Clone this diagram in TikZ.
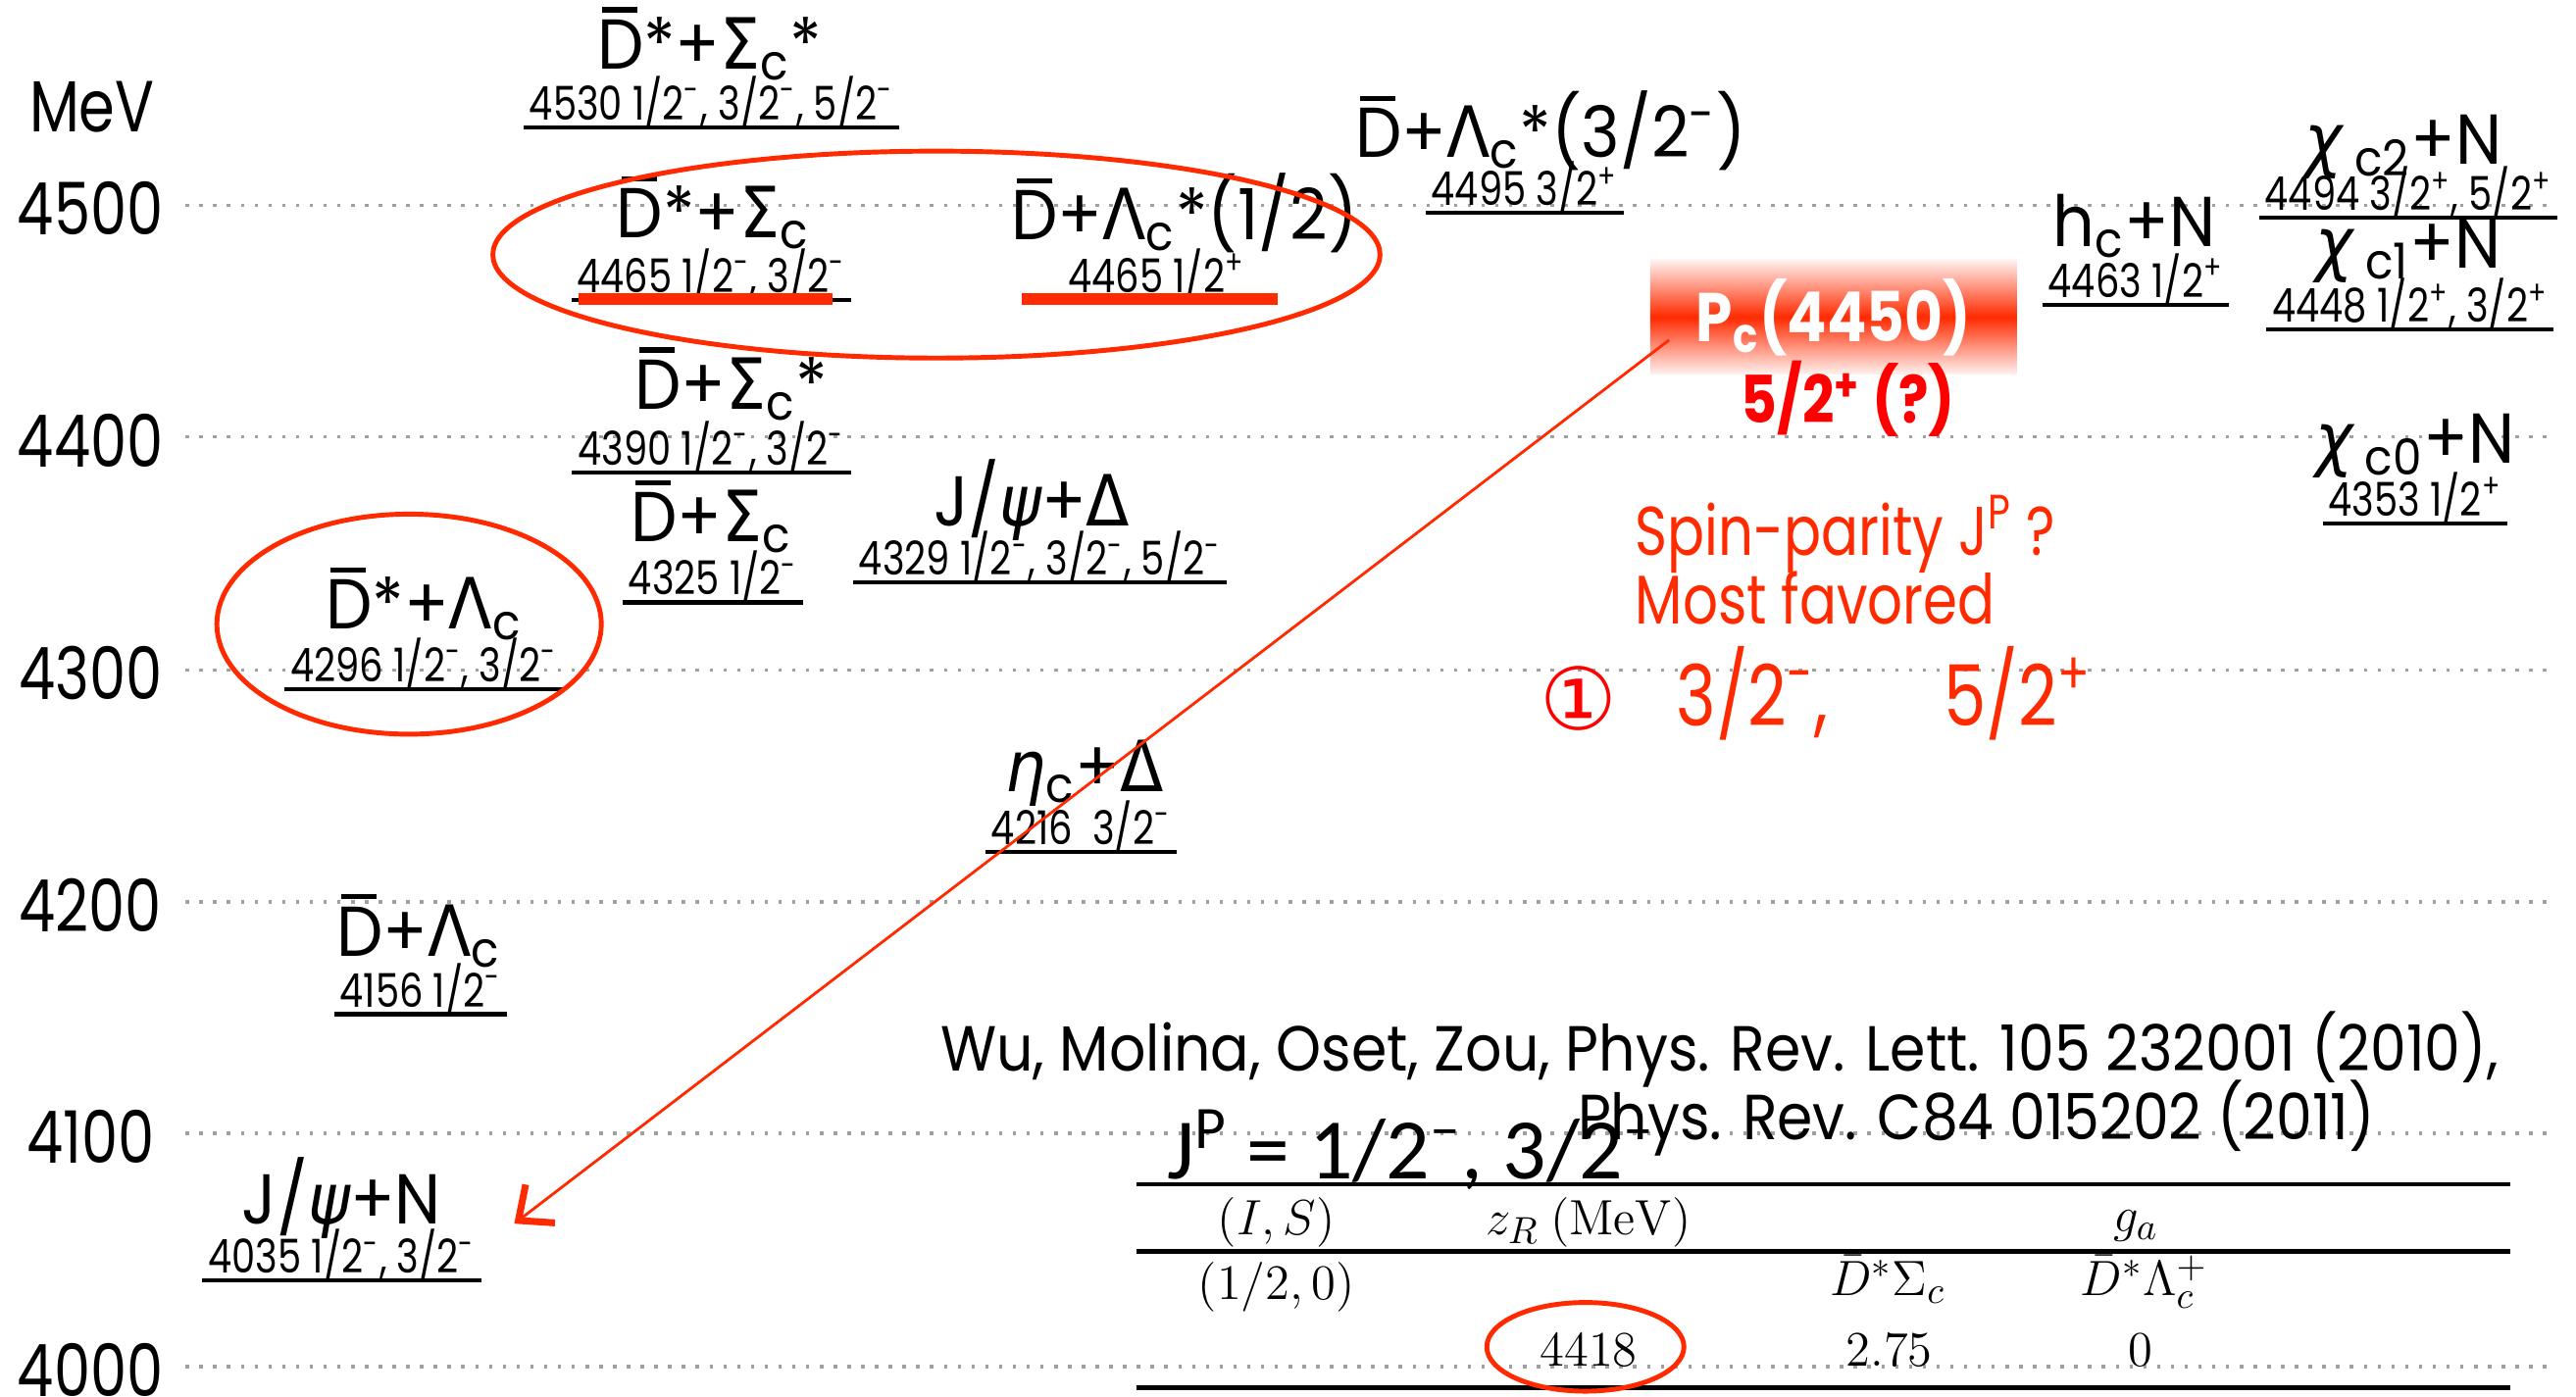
\documentclass[tikz,border=0pt]{standalone}
\usepackage[no-math]{fontspec}
\setmainfont{Poppins}[FakeStretch=0.85]
\newfontfamily\namefont{Poppins}[FakeStretch=0.93]
\newfontfamily\massfont{Poppins}[FakeStretch=0.81]
\newfontfamily\axisfont{Poppins}[FakeStretch=0.8]
\newfontfamily\citefont{Poppins}[FakeStretch=0.9]
\newfontfamily\notefont{Poppins}[FakeStretch=0.8]
\newfontfamily\grkfont{DejaVu Sans}[FakeStretch=0.9]
\newfontfamily\symfont{DejaVu Sans}
\newfontfamily\calfont{Carlito}
\usetikzlibrary{arrows.meta,positioning,calc}
\definecolor{figred}{HTML}{FF2A00}
\definecolor{figpure}{HTML}{FF0000}
\definecolor{figgrid}{HTML}{A0A0A0}
\newcommand{\Db}{\ooalign{D\cr\kern0.07em\rule[0.8em]{0.5em}{0.075em}\hidewidth\cr}}
\newcommand{\Sig}{{\grkfont Σ}}
\newcommand{\Lam}{{\grkfont Λ}}
\newcommand{\Del}{{\grkfont Δ}}
\newcommand{\chic}{{\grkfont\itshape χ}}
\newcommand{\psic}{{\grkfont\itshape ψ}}
\newcommand{\etac}{{\grkfont\itshape η}}

\begin{document}
\begin{tikzpicture}[x=0.016754cm, y=-0.016754cm,
  species/.style={font=\namefont\fontsize{20.5}{24}\selectfont, inner sep=0pt, anchor=base},
  mass/.style={font=\massfont\fontsize{13.5}{16}\selectfont, inner xsep=1.5pt, inner ysep=2pt,
               text depth=0pt, anchor=base},
  massline/.style={line width=1.3pt},
  redbar/.style={figred, line width=3.4pt},
  gridline/.style={figgrid, line width=1pt, dash pattern=on 1pt off 3pt},
  axislbl/.style={font=\axisfont\fontsize{21}{24}\selectfont, inner sep=0pt},
  hilite/.style={figred, line width=1.4pt},
  pcbox/.style={minimum width=3.74cm, minimum height=1.17cm, inner sep=0pt,
                top color=figred!6, bottom color=figred!6, middle color=figred,
                text=white, font=\bfseries\fontsize{20}{24}\selectfont},
  pcarrow/.style={figred, line width=0.8pt, -{Straight Barb[length=8pt,width=14pt,line width=2pt]}},
  remark/.style={font=\notefont\fontsize{20}{24}\selectfont, text=figred, inner sep=0pt, anchor=base west},
  cite/.style={font=\citefont\fontsize{18.5}{22}\selectfont, inner sep=0pt, anchor=base west},
  tab/.style={font=\fontsize{15}{18}\selectfont, inner sep=0pt, anchor=base},
  tabrule/.style={line width=1.4pt}]
\useasboundingbox (0,0) rectangle (1568,850);

\node[axislbl] (mev) at (56,65) {MeV};
\foreach \e/\y in {4500/125,4400/266,4300/408,4200/549,4100/690,4000/832}{
  \node[axislbl] (e\e) at (55,\y+2) {\e};
  \draw[gridline] (113,\y) -- (1555,\y);
}

\node[species] (dsss)    at (432,42)   {\Db*+\Sig\textsubscript{c}*};
\node[species] (dss)     at (434,145)  {\Db*+\Sig\textsubscript{c}};
\node[species] (dlc1)    at (721,146)  {\Db+\Lam\textsubscript{c}*(1/2)};
\node[species] (dlc3)    at (944,96)   {\Db+\Lam\textsubscript{c}*(3/2\textsuperscript{-})};
\node[species] (hcn)     at (1299,150) {h\textsubscript{c}+N};
\node[species] (chi2)    at (1463,100) {\chic\,\textsubscript{c2}+N};
\node[species] (chi1)    at (1466,163) {\chic\,\textsubscript{c1}+N};
\node[species] (chi0)    at (1470,282) {\chic\,\textsubscript{c0}+N};
\node[species] (dsigs)   at (445,249)  {\Db+\Sig\textsubscript{c}*};
\node[species] (dsig)    at (433,330)  {\Db+\Sig\textsubscript{c}};
\node[species] (jpsidel) at (628,320)  {J/\psic+\Del};
\node[species] (dslam)   at (258,383)  {\Db*+\Lam\textsubscript{c}};
\node[species] (etadel)  at (660,482)  {\etac\textsubscript{c}+\Del};
\node[species] (dlam)    at (255,582)  {\Db+\Lam\textsubscript{c}};
\node[species] (jpsin)   at (208,745)  {J/\psic+N};

\node[mass] (m4530)  at (433,73)   {4530 1/2\textsuperscript{-}, 3/2\textsuperscript{-}, 5/2\textsuperscript{-}};
\node[mass] (m4465a) at (433,178)  {4465 1/2\textsuperscript{-}, 3/2\textsuperscript{-}};
\node[mass] (m4465b) at (704,178)  {4465 1/2\textsuperscript{+}};
\node[mass] (m4495)  at (928,125)  {4495 3/2\textsuperscript{+}};
\node[mass] (m4463)  at (1300,181) {4463 1/2\textsuperscript{+}};
\node[mass] (m4494)  at (1466,128) {4494 3/2\textsuperscript{+}, 5/2\textsuperscript{+}};
\node[mass] (m4448)  at (1467,196) {4448 1/2\textsuperscript{+}, 3/2\textsuperscript{+}};
\node[mass] (m4353)  at (1470,314) {4353 1/2\textsuperscript{+}};
\node[mass] (m4390)  at (433,283)  {4390 1/2\textsuperscript{-}, 3/2\textsuperscript{-}};
\node[mass] (m4325)  at (434,362)  {4325 1/2\textsuperscript{-}};
\node[mass] (m4329)  at (633,350)  {4329 1/2\textsuperscript{-}, 3/2\textsuperscript{-}, 5/2\textsuperscript{-}};
\node[mass] (m4296)  at (258,415)  {4296 1/2\textsuperscript{-}, 3/2\textsuperscript{-}};
\node[mass] (m4216)  at (658,514)  {4216~~3/2\textsuperscript{-}};
\node[mass] (m4156)  at (256,613)  {4156 1/2\textsuperscript{-}};
\node[mass] (m4035)  at (208,775)  {4035 1/2\textsuperscript{-}, 3/2\textsuperscript{-}};
\foreach \m in {m4530,m4465a,m4465b,m4495,m4463,m4494,m4448,m4353,m4390,m4325,m4329,m4296,m4216,m4156,m4035}
  \draw[massline] (\m.south west) -- (\m.south east);

\draw[redbar] (352,182) -- (507,182);
\draw[redbar] (622,182) -- (778,182);
\draw[hilite] (570,155) ellipse [x radius=270, y radius=63];
\draw[hilite] (249,380) ellipse [x radius=117, y radius=67];

\node[pcbox] (pc) at (1116,193) {P\textsubscript{c}(4450)};
\node[font=\bfseries\fontsize{19}{22}\selectfont, text=figpure, inner sep=0pt] (pcjp) at (1125,243) {5/2\textsuperscript{+} (?)};
\coordinate (tip) at ($(jpsin.base east)+(44,0)$);
\draw[pcarrow] ($(pc.west)+(12,14)$) -- (tip);

\node[remark] (spin) at (995,338) {Spin-parity J\textsuperscript{P} ?};
\node[remark] (fav)  at (995,380) {Most favored};
\node[font=\symfont\fontsize{25}{28}\selectfont, text=figpure, inner sep=0pt] (one) at (961,425) {①};
\node[remark, font=\notefont\fontsize{24.5}{28}\selectfont] (jpa) at (1020,442) {3/2\textsuperscript{-},};
\node[remark, font=\notefont\fontsize{24.5}{28}\selectfont] (jpb) at (1183,442) {5/2\textsuperscript{+}};

\node[cite] (cite1) at (572,652) {Wu, Molina, Oset, Zou, Phys. Rev. Lett. 105 232001 (2010),};
\node[cite] (cite2) at (960,694) {Phys. Rev. C84 015202 (2011)};
\node[font=\calfont\fontsize{25}{30}\selectfont, inner sep=0pt, anchor=base west] (jpall) at (710,718)
  {J\textsuperscript{P} = 1/2\textsuperscript{–}, 3/2\textsuperscript{–}};

\draw[tabrule] (692,721) -- (1528,721);
\draw[tabrule] (692,762) -- (1528,762);
\draw[tabrule] (692,845) -- (1528,845);
\node[tab] (is)   at (777,752)  {$(I,S)$};
\node[tab] (zr)   at (967,752)  {$z_R\ (\mathrm{MeV})$};
\node[tab] (ga)   at (1300,750) {$g_a$};
\node[tab] (half) at (777,791)  {$(1/2,0)$};
\node[tab] (dsc)  at (1149,789) {$\bar{D}^*\Sigma_c$};
\node[tab] (dlc)  at (1305,789) {$\bar{D}^*\Lambda_c^+$};
\node[tab] (zval) at (967,832)  {$4418$};
\node[tab] (gsig) at (1150,832) {$2.75$};
\node[tab] (glam) at (1303,832) {$0$};
\draw[hilite] (965,820) ellipse [x radius=60, y radius=27];
\end{tikzpicture}
\end{document}
